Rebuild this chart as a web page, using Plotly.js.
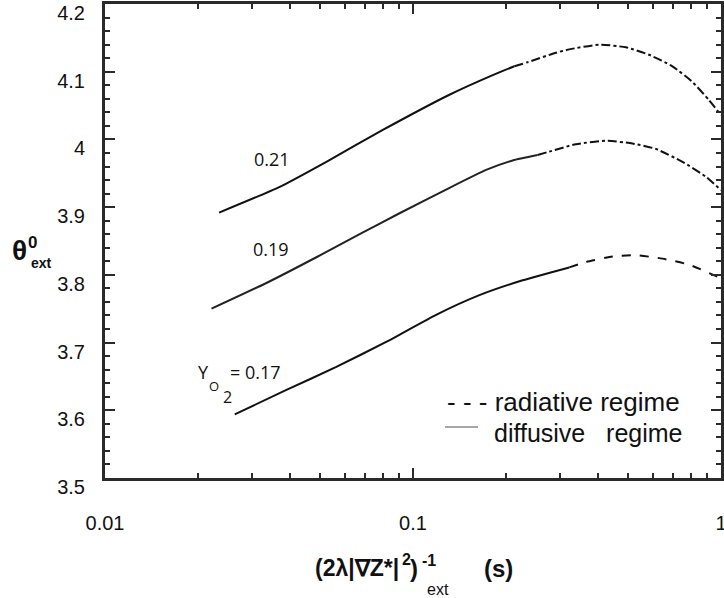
<!DOCTYPE html>
<html><head><meta charset="utf-8">
<script src="https://cdn.plot.ly/plotly-3.0.1.min.js"></script>
<style>html,body{margin:0;padding:0;background:#fff}#chart{width:724px;height:598px}</style>
</head><body><div id="chart"></div>
<script>
// Y_O2 = 0.21
const x021Diff = [0.02347,0.03693,0.05233,0.07979,0.1313,0.1815,0.2133];
const y021Diff = [3.892,3.930,3.967,4.014,4.066,4.095,4.108];
const x021Rad  = [0.2133,0.2355,0.2911,0.3217,0.4023,0.4912,0.5843,0.6953,0.8072,0.9144,1.0];
const y021Rad  = [4.108,4.114,4.128,4.133,4.140,4.136,4.125,4.108,4.085,4.058,4.036];
// Y_O2 = 0.19
const x019Diff = [0.02217,0.03343,0.04857,0.0683,0.09042,0.1281,0.1727,0.2107,0.2538];
const y019Diff = [3.750,3.788,3.826,3.862,3.891,3.926,3.955,3.969,3.977];
const x019Rad  = [0.2538,0.2770,0.3381,0.4229,0.5158,0.6141,0.7494,0.8923,1.0];
const y019Rad  = [3.977,3.982,3.993,3.998,3.994,3.986,3.967,3.945,3.925];
// Y_O2 = 0.17
const x017Diff = [0.02638,0.03882,0.05636,0.08182,0.1189,0.1643,0.227,0.3217];
const y017Diff = [3.594,3.630,3.664,3.701,3.741,3.770,3.792,3.811];
const x017Rad  = [0.3217,0.3642,0.4442,0.5291,0.6453,0.7874,1.0];
const y017Rad  = [3.811,3.819,3.827,3.829,3.824,3.815,3.795];

const xTickVals = [0.01,0.1,1];
const xTickText = ['0.01','0.1','1'];
const yTickVals = [3.5,3.6,3.7,3.8,3.9,4.0,4.1,4.2];
const yTickText = ['3.5','3.6','3.7','3.8','3.9','4','4.1','4.2'];

const W=724,H=598,L=105,R=721,T=4,B=478;
const px=x=>(x-L)/(R-L), py=y=>(B-y)/(B-T);
const INK='#111', FRAME='#2a2a2a';
function mkLine(x,y,dash,color){return {x:x,y:y,mode:'lines',type:'scatter',showlegend:false,hoverinfo:'skip',
  line:{color:color||INK,width:2,dash:dash,shape:'spline',smoothing:0.5}};}

const traces=[
  mkLine(x021Diff,y021Diff,'solid'), mkLine(x021Rad,y021Rad,'dashdot'),
  mkLine(x019Diff,y019Diff,'solid','#222'), mkLine(x019Rad,y019Rad,'dashdot'),
  mkLine(x017Diff,y017Diff,'solid'), mkLine(x017Rad,y017Rad,'dash')
];

const lab='Open Sans, Noto Sans, sans-serif', ar='Liberation Sans, Arial, sans-serif';
function ann(text,x,y,size,opts){return Object.assign({text:text,xref:'paper',yref:'paper',x:px(x),y:py(y),
  xanchor:'center',yanchor:'middle',showarrow:false,font:{family:lab,size:size,color:INK}},opts||{});}
const f=(s)=>({font:{family:ar,size:s,color:INK}});

const annotations=[
  ann('0.21',272,159,18), ann('0.19',271,249,18),
  ann('Y',203,372,18), ann('O',214,386,13), ann('2',227,397,16), ann('= 0.17',255,372,18),
  ann('- - - radiative regime',445,402,26,Object.assign({xanchor:'left'},f(26))),
  ann('diffusive   regime',492,433,25,Object.assign({xanchor:'left'},f(25))),
  ann('<b>θ</b>',19.5,250,28,f(28)),
  ann('<b>0</b>',32,242,17,f(17)),
  ann('<b>ext</b>',41,263,14,f(14)),
  ann('<b>(2λ|∇Z*|</b>',313,568,23,Object.assign({xanchor:'left'},f(23))),
  ann('<b>2</b>',406,559,16,f(16)),
  ann('<b>)</b>',414,568,24,f(24)),
  ann('<b>-1</b>',429,560,16,f(16)),
  ann('ext',438,589,16,f(16)),
  ann('<b>(s)</b>',498.5,568,24,f(24))
];

const axisCommon={showline:true,linewidth:3,linecolor:FRAME,mirror:'ticks',ticks:'inside',ticklen:10,tickwidth:2,
  tickcolor:FRAME,showgrid:false,zeroline:false,tickfont:{family:ar,size:20,color:INK},ticklabeloverflow:'allow'};

const layout={
  width:W,height:H,margin:{l:L,r:W-R,t:T,b:H-B},paper_bgcolor:'#fff',plot_bgcolor:'#fff',
  xaxis:Object.assign({},axisCommon,{type:'log',range:[-2,0],tickmode:'array',tickvals:xTickVals,ticktext:xTickText,
    ticklabelstandoff:25,
    minor:{dtick:'D1',ticks:'inside',ticklen:5,tickwidth:2,tickcolor:FRAME,showgrid:false}}),
  yaxis:Object.assign({},axisCommon,{range:[3.5,4.2],tickmode:'array',tickvals:yTickVals,ticktext:yTickText,
    ticklabelstandoff:13,ticklabelshift:9,
    minor:{dtick:0.02,tick0:3.5,ticks:'inside',ticklen:5,tickwidth:2,tickcolor:FRAME,showgrid:false}}),
  shapes:[{type:'line',xref:'paper',yref:'paper',x0:px(445),x1:px(478),y0:py(427),y1:py(427),line:{color:'#888',width:1.5}}],
  annotations:annotations,showlegend:false
};
Plotly.newPlot('chart',traces,layout,{displayModeBar:false,staticPlot:true});
</script></body></html>
